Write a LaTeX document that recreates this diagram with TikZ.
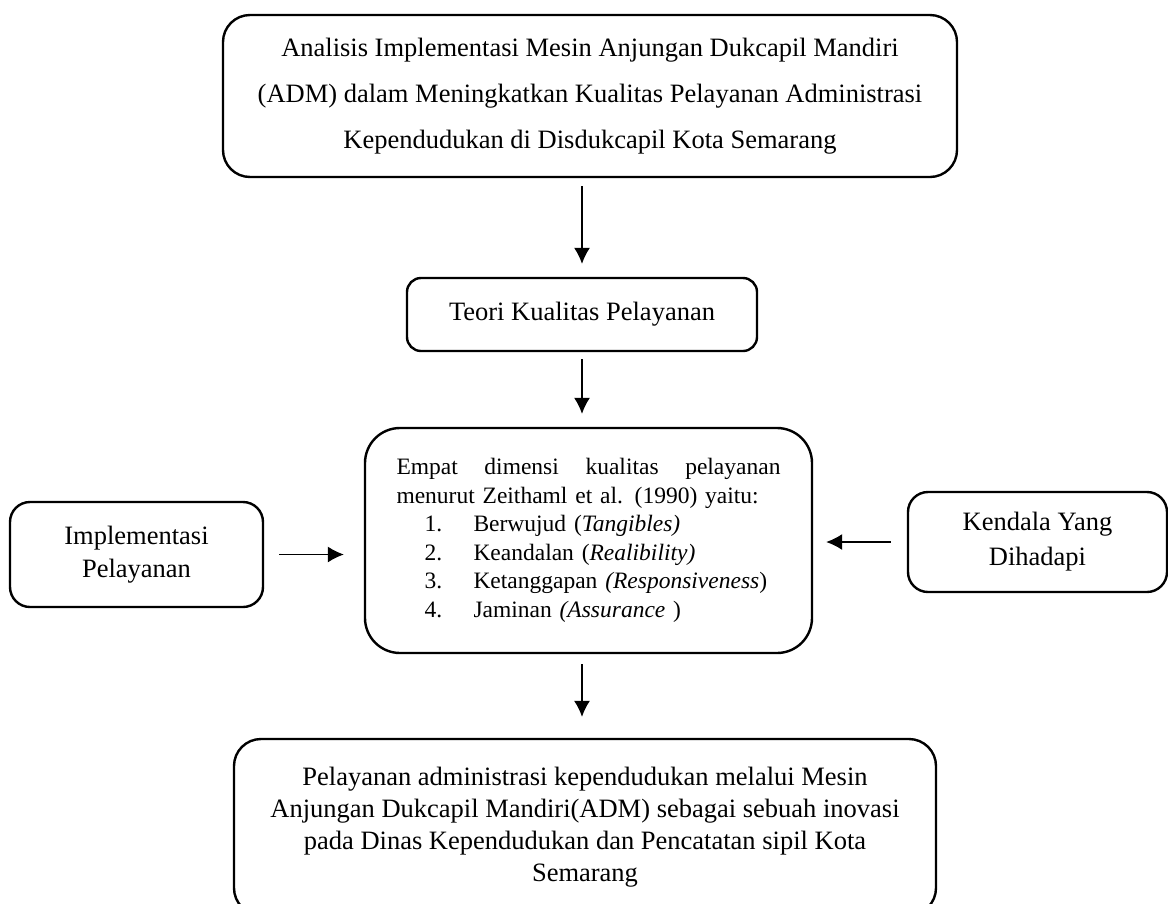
\documentclass[tikz,border=0pt]{standalone}
\usepackage{fontspec}
\setmainfont{Liberation Serif}
\usetikzlibrary{positioning,arrows.meta}

\tikzset{
  box/.style={draw, line width=2.4pt, align=center, inner sep=0pt},
  arr/.style={line width=1.3pt, -{Latex[length=16pt,width=16pt]}}
}

\begin{document}
\begin{tikzpicture}[x=1pt,y=-1pt]
			\useasboundingbox (0,0) rectangle (1168,903);
			% judul
			\node[box, rounded corners=27pt, minimum width=734pt, minimum height=162pt,
			      font=\fontsize{26.5}{46}\selectfont] (judul) at (590,96)
			  {Analisis Implementasi Mesin Anjungan Dukcapil Mandiri\\
			   (ADM) dalam Meningkatkan Kualitas Pelayanan Administrasi\\
			   Kependudukan di Disdukcapil Kota Semarang};
			\node[box, rounded corners=14pt, minimum width=350pt, minimum height=73pt,
			      font=\fontsize{26.5}{32}\selectfont] (teori) at (582,314.5)
			  {Teori Kualitas Pelayanan};
			% dimensi
			\node[box, rounded corners=35pt, minimum width=447pt, minimum height=225pt,
			      text width=384pt, align=left, font=\fontsize{23.5}{28.5}\selectfont] (dimensi) at (588.5,540.5)
			  {\hbox to 384pt{Empat\hfill dimensi\hfill kualitas\hfill pelayanan}
			   menurut Zeithaml et al. (1990) yaitu:\\
			   \hspace*{28pt}\makebox[49pt][l]{1.}Berwujud (\textit{Tangibles)}\\
			   \hspace*{28pt}\makebox[49pt][l]{2.}Keandalan (\textit{Realibility)}\\
			   \hspace*{28pt}\makebox[49pt][l]{3.}Ketanggapan \textit{(Responsiveness})\\
			   \hspace*{28pt}\makebox[49pt][l]{4.}Jaminan \textit{(Assurance} )};
			\node[box, rounded corners=20pt, minimum width=253pt, minimum height=105pt,
			      font=\fontsize{26.5}{33}\selectfont] (impl) at (136.5,554.5)
			  {Implementasi\\Pelayanan};
			\node[box, rounded corners=20pt, minimum width=259pt, minimum height=100pt,
			      font=\fontsize{26.5}{35}\selectfont] (kendala) at (1037.5,542)
			  {Kendala Yang\\Dihadapi};
			% hasil
			\node[box, rounded corners=27pt, minimum width=702pt, minimum height=176pt,
			      font=\fontsize{26.5}{32}\selectfont] (hasil) at (585,827)
			  {Pelayanan administrasi kependudukan melalui Mesin\\
			   Anjungan Dukcapil Mandiri(ADM) sebagai sebuah inovasi\\
			   pada Dinas Kependudukan dan Pencatatan sipil Kota\\
			   Semarang};
			% panah
			\draw[arr, shorten <=8pt, shorten >=13pt] (judul.south -| teori.north) -- (teori.north);
			\draw[arr, shorten <=7pt, shorten >=13pt] (teori.south) -- (teori.south |- dimensi.north);
			\draw[arr, shorten <=15pt, shorten >=20pt] (impl.east) -- (impl.east -| dimensi.west);
			\draw[arr, shorten <=16pt, shorten >=13pt] (kendala.west) -- (kendala.west -| dimensi.east);
			\draw[arr, shorten <=10pt, shorten >=21pt] (dimensi.south -| teori.south) -- (hasil.north -| teori.south);
\end{tikzpicture}
\end{document}
